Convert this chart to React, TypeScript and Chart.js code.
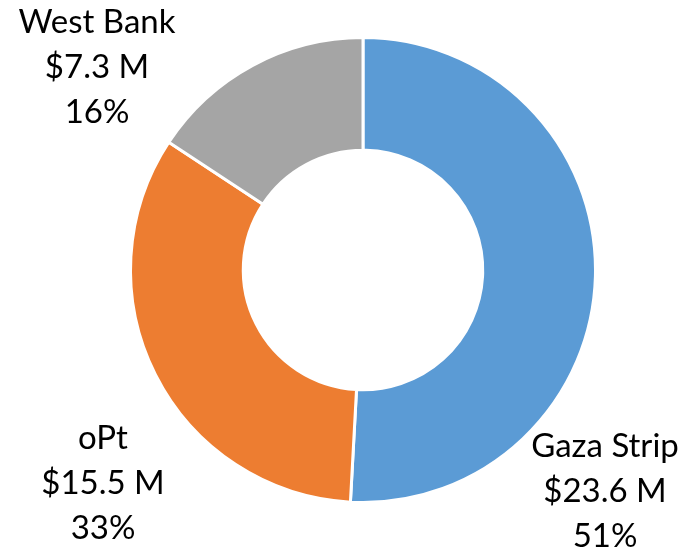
import React, { useEffect, useRef } from "react";
import { Chart, registerables } from "chart.js";

Chart.register(...registerables);

const categories = ["Gaza Strip", "oPt", "West Bank"];
const amounts = [23.6, 15.5, 7.3];
const amountLabels = ["$23.6 M", "$15.5 M", "$7.3 M"];
const percentLabels = ["51%", "33%", "16%"];
const colors = ["#5B9BD5", "#ED7D31", "#A5A5A5"];

// label anchor offsets relative to doughnut centre (text block centre)
const labelOffsets = [
  { dx: 242, dy: 221 },
  { dx: -260, dy: 213 },
  { dx: -266, dy: -203 },
];

const labelPlugin = {
  id: "outsideLabels",
  afterDatasetsDraw(chart: any) {
    const meta = chart.getDatasetMeta(0);
    const ctx = chart.ctx;
    ctx.save();
    ctx.fillStyle = "#000000";
    ctx.font = "33px Lato, 'Open Sans', sans-serif";
    ctx.textAlign = "center";
    ctx.textBaseline = "middle";
    const lineH = 45;
    meta.data.forEach((arc: any, i: number) => {
      const cx = arc.x + labelOffsets[i].dx;
      const cy = arc.y + labelOffsets[i].dy;
      const lines = [categories[i], amountLabels[i], percentLabels[i]];
      lines.forEach((t, j) => {
        ctx.fillText(t, cx, cy + (j - 1) * lineH);
      });
    });
    ctx.restore();
  },
};

export default function App() {
  const ref = useRef<HTMLCanvasElement | null>(null);
  useEffect(() => {
    if (!ref.current) return;
    const chart = new Chart(ref.current, {
      type: "doughnut",
      data: {
        labels: categories,
        datasets: [
          {
            data: amounts,
            backgroundColor: colors,
            borderColor: "#ffffff",
            borderWidth: 3,
            hoverOffset: 0,
            offset: 0,
          },
        ],
      },
      options: {
        responsive: false,
        animation: false,
        cutout: "51.5%",
        layout: { padding: { top: 36, bottom: 46, left: 129, right: 99 } },
        plugins: {
          legend: { display: false },
          tooltip: { enabled: false },
        },
      },
      plugins: [labelPlugin],
    });
    return () => chart.destroy();
  }, []);
  return (
    <div style={{ position: "fixed", left: 0, top: 0, width: 696, height: 550, background: "#fff" }}>
      <canvas ref={ref} width={696} height={550} style={{ width: 696, height: 550 }} />
    </div>
  );
}
